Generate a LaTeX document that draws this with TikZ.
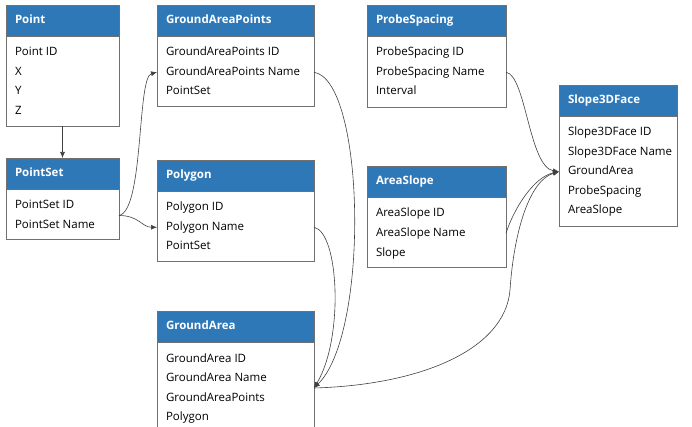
\documentclass[tikz,border=0pt]{standalone}
\usepackage{fontspec}
\setmainfont{Open Sans}
\usetikzlibrary{arrows.meta,calc}
\definecolor{HeadBlue}{HTML}{2F78B8}
\definecolor{BoxGray}{HTML}{707070}
\tikzset{
  head/.style={draw=BoxGray,fill=HeadBlue,text=white,font=\fontsize{11.5}{13}\selectfont\bfseries,anchor=north west,minimum height=31pt,inner xsep=9pt,inner ysep=0pt,outer sep=0pt,text height=9pt,text depth=3pt},
  body/.style={draw=BoxGray,fill=white,anchor=north west,inner sep=0pt,outer sep=0pt},
  row/.style={anchor=north west,inner sep=0pt,outer sep=0pt,text height=13pt,text depth=6.5pt},
  link/.style={-{Latex[length=6pt,width=5pt]},line width=0.6pt,black!75}
}

\begin{document}
\begin{tikzpicture}[x=1pt,y=-1pt,every node/.style={font=\fontsize{11.5}{13}\selectfont}]
    \clip (0,0) rectangle (692,427);

    \node[head,text width=95pt] (point) at (6,5) {Point};
    \node[body,minimum width=113pt,minimum height=90pt] (point-b) at (point.south west) {};
    \node[row] (point-id) at ($(point.south west)+(9,7)$) {Point ID};
    \node[row] (point-x) at (point-id.south west) {X};
    \node[row] (point-y) at (point-x.south west) {Y};
    \node[row] (point-z) at (point-y.south west) {Z};

    \node[head,text width=95pt] (ps) at (6,158) {PointSet};
    \node[body,minimum width=113pt,minimum height=50pt] (ps-b) at (ps.south west) {};
    \node[row] (ps-id) at ($(ps.south west)+(9,7)$) {PointSet ID};
    \node[row] (ps-name) at (ps-id.south west) {PointSet Name};

    \node[head,text width=139pt] (gap) at (157,5) {GroundAreaPoints};
    \node[body,minimum width=157pt,minimum height=70pt] (gap-b) at (gap.south west) {};
    \node[row] (gap-id) at ($(gap.south west)+(9,7)$) {GroundAreaPoints ID};
    \node[row] (gap-name) at (gap-id.south west) {GroundAreaPoints Name};
    \node[row] (gap-ps) at (gap-name.south west) {PointSet};

    \node[head,text width=139pt] (pg) at (157,160) {Polygon};
    \node[body,minimum width=157pt,minimum height=70pt] (pg-b) at (pg.south west) {};
    \node[row] (pg-id) at ($(pg.south west)+(9,7)$) {Polygon ID};
    \node[row] (pg-name) at (pg-id.south west) {Polygon Name};
    \node[row] (pg-ps) at (pg-name.south west) {PointSet};

    \node[head,text width=139pt] (ga) at (157,311) {GroundArea};
    \node[body,minimum width=157pt,minimum height=100pt] (ga-b) at (ga.south west) {};
    \node[row] (ga-id) at ($(ga.south west)+(9,7)$) {GroundArea ID};
    \node[row] (ga-name) at (ga-id.south west) {GroundArea Name};
    \node[row] (ga-pts) at (ga-name.south west) {GroundAreaPoints};
    \node[row] (ga-pg) at (ga-pts.south west) {Polygon};

    \node[head,text width=121pt] (prb) at (367,5) {ProbeSpacing};
    \node[body,minimum width=139pt,minimum height=71pt] (prb-b) at (prb.south west) {};
    \node[row] (prb-id) at ($(prb.south west)+(9,7)$) {ProbeSpacing ID};
    \node[row] (prb-name) at (prb-id.south west) {ProbeSpacing Name};
    \node[row] (prb-int) at (prb-name.south west) {Interval};

    \node[head,text width=121pt] (as) at (367,166) {AreaSlope};
    \node[body,minimum width=139pt,minimum height=70pt] (as-b) at (as.south west) {};
    \node[row] (as-id) at ($(as.south west)+(9,7)$) {AreaSlope ID};
    \node[row] (as-name) at (as-id.south west) {AreaSlope Name};
    \node[row] (as-sl) at (as-name.south west) {Slope};

    \node[head,text width=100pt] (sf) at (559,85) {Slope3DFace};
    \node[body,minimum width=118pt,minimum height=110pt] (sf-b) at (sf.south west) {};
    \node[row] (sf-id) at ($(sf.south west)+(9,7)$) {Slope3DFace ID};
    \node[row] (sf-name) at (sf-id.south west) {Slope3DFace Name};
    \node[row] (sf-ga) at (sf-name.south west) {GroundArea};
    \node[row] (sf-prb) at (sf-ga.south west) {ProbeSpacing};
    \node[row] (sf-as) at (sf-prb.south west) {AreaSlope};

    \draw[link] (point-b.south) -- (ps.north);
    \draw[link] (ps-name.north -| ps.east) .. controls +(25,-5) and +(-20,5) .. (gap-name.west -| gap.west);
    \draw[link] (ps-name.north -| ps.east) .. controls +(20,0) and +(-15,0) .. (pg-name.west -| pg.west);
    \draw[link] (gap-name.west -| gap.east) .. controls +(51,8) and +(56,-55) .. (ga-pts.north -| ga.east);
    \draw[link] (pg-name.west -| pg.east) .. controls +(25,5) and +(30,-50) .. (ga-pts.north -| ga.east);
    \draw[link] (prb-name.west -| prb.east) .. controls +(20,3) and +(-30,-5) .. (sf-ga.west -| sf.west);
    \draw[link] (as-name.west -| as.east) .. controls +(8,-25) and +(-25,5) .. (sf-ga.west -| sf.west);
    \draw[link] (ga-pts.north -| ga.east) .. controls (420,385) and (505,350) .. (510,290) .. controls (514,230) and (530,180) .. (sf-ga.west -| sf.west);
\end{tikzpicture}
\end{document}
